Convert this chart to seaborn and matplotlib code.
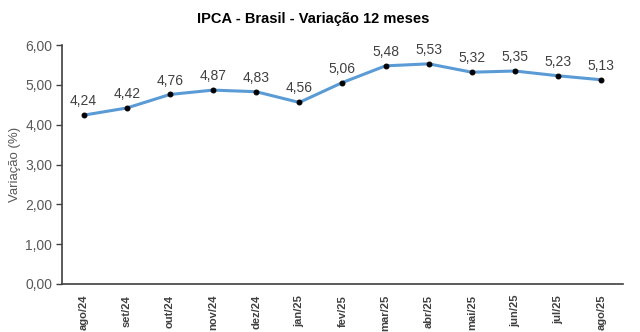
import matplotlib
matplotlib.use("Agg")
import matplotlib.pyplot as plt
import seaborn as sns
import pandas as pd

months = ["ago/24", "set/24", "out/24", "nov/24", "dez/24", "jan/25", "fev/25",
          "mar/25", "abr/25", "mai/25", "jun/25", "jul/25", "ago/25"]
values = [4.24, 4.42, 4.76, 4.87, 4.83, 4.56, 5.06, 5.48, 5.53, 5.32, 5.35, 5.23, 5.13]
yticks = [0, 1, 2, 3, 4, 5, 6]

sns.set_style("white")
plt.rcParams['font.family'] = ['Liberation Sans', 'DejaVu Sans']

df = pd.DataFrame({"mes": months, "valor": values, "pos": range(len(months))})

fig = plt.figure(figsize=(6.4, 3.32), dpi=100)
ax = fig.add_axes([0.097, 0.145, 0.876, 0.719])

sns.lineplot(data=df, x="pos", y="valor", ax=ax, color="#5B9BD5", linewidth=2.2,
             marker="o", markersize=3.5, markerfacecolor="black", markeredgecolor="black")

for x, v in zip(df["pos"], df["valor"]):
    ax.annotate(f"{v:.2f}".replace(".", ","), (x, v), xytext=(0, 5), textcoords="offset points",
                ha="center", va="bottom", fontsize=10, color="#404040")

ax.set_xlim(-0.5, len(months) - 0.5)
ax.set_ylim(0, 6)
ax.set_yticks(yticks)
ax.set_yticklabels([f"{t:.2f}".replace(".", ",") for t in yticks], fontsize=10, color="#595959")
ax.set_xticks(range(len(months)))
ax.set_xticklabels(months, rotation=90, fontsize=8, color="#404040", fontweight="bold")
ax.set_xticks([i - 0.5 for i in range(len(months) + 1)], minor=True)
ax.tick_params(axis="x", which="major", length=0, pad=8)
ax.tick_params(axis="x", which="minor", length=4, width=1, color="#404040", direction="out")
ax.tick_params(axis="y", length=4, width=1, color="#404040", direction="out", left=True, pad=3)
ax.set_xlabel("")
ax.set_ylabel("Variação (%)", fontsize=9.5, color="#595959", labelpad=3)
for s in ["top", "right"]:
    ax.spines[s].set_visible(False)
for s in ["left", "bottom"]:
    ax.spines[s].set_color("#404040")
    ax.spines[s].set_linewidth(1.2)

fig.suptitle("IPCA - Brasil - Variação 12 meses", x=0.49, y=0.965, fontsize=10.5,
             fontweight="bold", color="black")

fig.savefig("out.png", dpi=100)
